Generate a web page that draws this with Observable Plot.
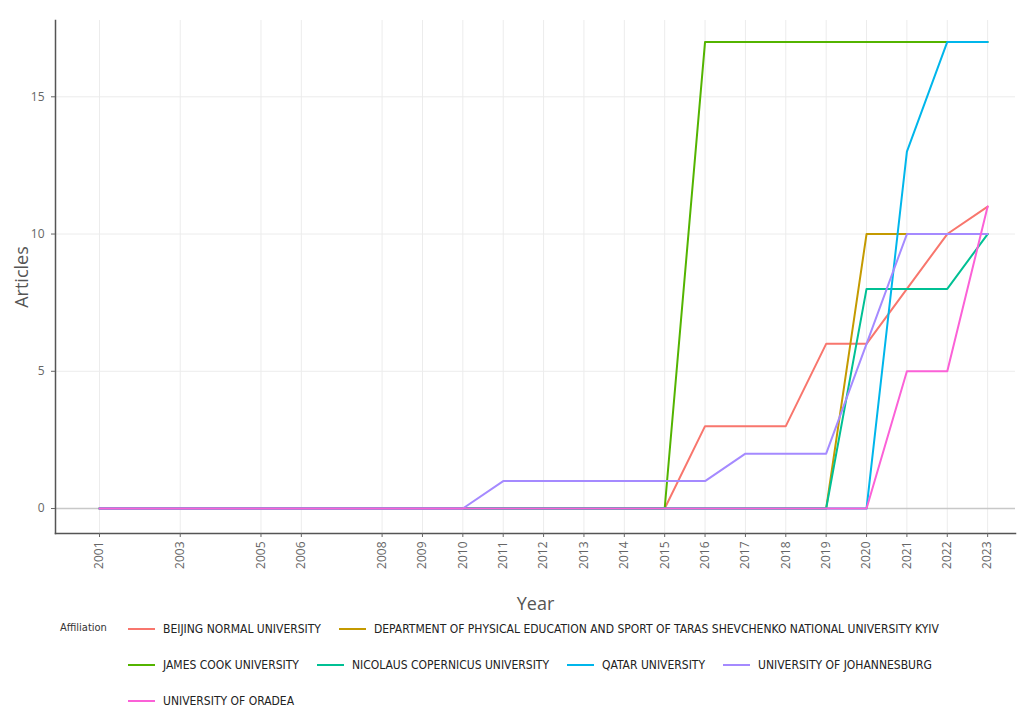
<!DOCTYPE html>
<html>
<head>
<meta charset="utf-8">
<script src="https://cdn.jsdelivr.net/npm/d3@7"></script>
<script src="https://cdn.jsdelivr.net/npm/@observablehq/plot@0.6"></script>
<style>
  body { margin: 0; background: #fff; font-family: "Open Sans", sans-serif; }
  #wrap { position: relative; width: 1019px; height: 707px; overflow: hidden; }
  #legend { position: absolute; left: 60px; top: 611px; width: 900px; }
  #legend .title { position: absolute; left: 0; top: 10px; font-size: 11px; line-height: 14px; color: #333; font-family: "Liberation Sans Narrow", "DejaVu Sans Condensed", sans-serif; }
  #legend .items { position: absolute; left: 68px; top: 0; width: 840px; display: flex; flex-wrap: wrap; column-gap: 18px; }
  #legend .item { display: flex; align-items: center; height: 36px; font-size: 12px; line-height: 13px; color: #222; font-family: "Liberation Sans Narrow", "DejaVu Sans Condensed", sans-serif; white-space: nowrap; }
  #legend .sw { width: 27px; height: 2px; margin-right: 8px; }
</style>
</head>
<body>
<div id="wrap"><div id="chart"></div><div id="legend"></div></div>
<script>
const years = [2001, 2003, 2005, 2006, 2008, 2009, 2010, 2011, 2012, 2013, 2014, 2015, 2016, 2017, 2018, 2019, 2020, 2021, 2022, 2023];
const affiliations = [
  "BEIJING NORMAL UNIVERSITY",
  "DEPARTMENT OF PHYSICAL EDUCATION AND SPORT OF TARAS SHEVCHENKO NATIONAL UNIVERSITY KYIV",
  "JAMES COOK UNIVERSITY",
  "NICOLAUS COPERNICUS UNIVERSITY",
  "QATAR UNIVERSITY",
  "UNIVERSITY OF JOHANNESBURG",
  "UNIVERSITY OF ORADEA"
];
const colors = ["#F8766D", "#C49A00", "#53B400", "#00C094", "#00B6EB", "#A58AFF", "#FB61D7"];
//                 01 03 05 06 08 09 10 11 12 13 14 15 16  17  18  19  20  21  22  23
const beijing     = [0, 0, 0, 0, 0, 0, 0, 0, 0, 0, 0, 0, 3,  3,  3,  6,  6,  8,  10, 11];
const kyiv        = [0, 0, 0, 0, 0, 0, 0, 0, 0, 0, 0, 0, 0,  0,  0,  0,  10, 10, 10, 10];
const jamesCook   = [0, 0, 0, 0, 0, 0, 0, 0, 0, 0, 0, 0, 17, 17, 17, 17, 17, 17, 17, 17];
const copernicus  = [0, 0, 0, 0, 0, 0, 0, 0, 0, 0, 0, 0, 0,  0,  0,  0,  8,  8,  8,  10];
const qatar       = [0, 0, 0, 0, 0, 0, 0, 0, 0, 0, 0, 0, 0,  0,  0,  0,  0,  13, 17, 17];
const johannesburg= [0, 0, 0, 0, 0, 0, 0, 1, 1, 1, 1, 1, 1,  2,  2,  2,  6,  10, 10, 10];
const oradea      = [0, 0, 0, 0, 0, 0, 0, 0, 0, 0, 0, 0, 0,  0,  0,  0,  0,  5,  5,  11];
const yTicks = [0, 5, 10, 15];

const seriesValues = [beijing, kyiv, jamesCook, copernicus, qatar, johannesburg, oradea];
const data = [];
affiliations.forEach((a, i) => years.forEach((y, j) => data.push({Affiliation: a, Year: y, Articles: seriesValues[i][j]})));

const chart = Plot.plot({
  width: 1019,
  height: 615,
  marginLeft: 55,
  marginRight: 4,
  marginTop: 20,
  marginBottom: 82,
  style: { fontFamily: "Open Sans, sans-serif", background: "#fff" },
  x: { domain: [1999.91, 2023.69] },
  y: { domain: [-0.91, 17.78] },
  color: { domain: affiliations, range: colors },
  marks: [
    Plot.gridX(years, { stroke: "#ececec", strokeOpacity: 1, strokeWidth: 1 }),
    Plot.gridY(yTicks, { stroke: "#ececec", strokeOpacity: 1, strokeWidth: 1 }),
    Plot.ruleY([0], { stroke: "#c8c8c8", strokeWidth: 1.3 }),
    Plot.frame({ anchor: "left", stroke: "#555", strokeWidth: 1.5 }),
    Plot.frame({ anchor: "bottom", stroke: "#555", strokeWidth: 1.5 }),
    Plot.axisY(yTicks, { tickSize: 4, tickPadding: 7, fontSize: 12, color: "#666", label: null, tickFormat: d => String(d) }),
    Plot.axisX(years, { tickSize: 4, tickPadding: 4, fontSize: 12, color: "#666", tickRotate: -90, label: null, tickFormat: d => String(d) }),
    Plot.text(["Year"], { frameAnchor: "bottom", textAnchor: "middle", dy: 76, fontSize: 18, fill: "#555" }),
    Plot.text(["Articles"], { frameAnchor: "left", textAnchor: "middle", dx: -33, rotate: -90, fontSize: 18, fill: "#555" }),
    Plot.line(data, { x: "Year", y: "Articles", z: "Affiliation", stroke: "Affiliation", strokeWidth: 2, curve: "linear" })
  ]
});
document.getElementById("chart").appendChild(chart);

const legend = document.getElementById("legend");
const t = document.createElement("div");
t.className = "title"; t.textContent = "Affiliation";
legend.appendChild(t);
const items = document.createElement("div");
items.className = "items";
affiliations.forEach((a, i) => {
  const it = document.createElement("div"); it.className = "item";
  const sw = document.createElement("span"); sw.className = "sw"; sw.style.background = colors[i];
  const lb = document.createElement("span"); lb.textContent = a;
  it.appendChild(sw); it.appendChild(lb); items.appendChild(it);
});
legend.appendChild(items);
</script>
</body>
</html>
